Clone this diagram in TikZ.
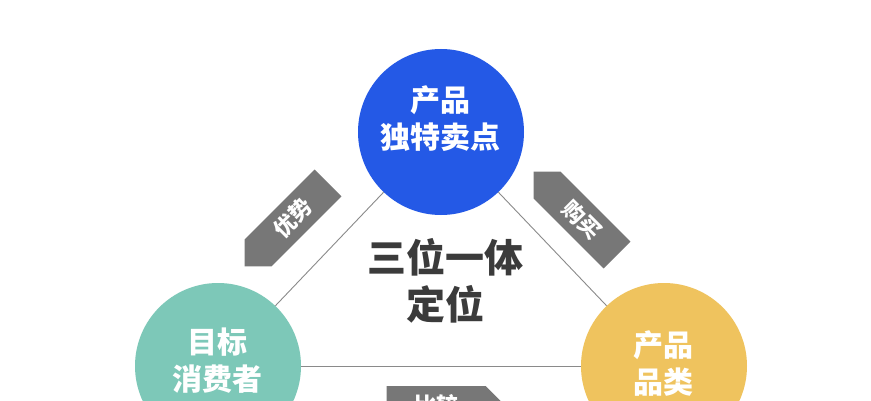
\documentclass[tikz,border=0pt]{standalone}
\usepackage{fontspec}
\setmainfont{Noto Sans CJK SC}
\usepackage{tikz}
\usetikzlibrary{shapes.symbols}

\definecolor{uspblue}{HTML}{2459E6}
\definecolor{custteal}{HTML}{7DC8B8}
\definecolor{catyellow}{HTML}{EFC35E}
\definecolor{taggray}{HTML}{777777}
\definecolor{linegray}{HTML}{8A8A8A}
\definecolor{midtext}{HTML}{3B3B3B}

\tikzset{
  ball/.style={circle, minimum size=166pt, inner sep=0pt},
  balltext/.style={text=white, align=center, font=\fontsize{30}{37}\selectfont\bfseries},
  tag/.style={signal, signal pointer angle=90, fill=taggray, text=white,
    minimum width=118pt, minimum height=38pt, inner sep=0pt,
    font=\fontsize{22}{22}\selectfont\bfseries},
  link/.style={draw=linegray, line width=0.9pt}
}

\begin{document}
\begin{tikzpicture}[x=1pt, y=1pt]
    \clip (0,0) rectangle (871,400);
    \useasboundingbox (0,0) rectangle (871,400);
    \fill[white] (0,0) rectangle (871,400);

    % three circles
    \node[ball, fill=uspblue] (usp) at (441,268) {};
    \node[ball, fill=custteal] (cust) at (218,34) {};
    \node[ball, fill=catyellow] (cat) at (664,34) {};

    \draw[link] (usp) -- (cust);
    \draw[link] (usp) -- (cat);
    \draw[link] (cust) -- (cat);

    \node[balltext] (uspTxt) at (440,281) {产品\\独特卖点};
    \node[balltext] (custTxt) at (217,39) {目标\\消费者};
    \node[balltext] (catTxt) at (663,36) {产品\\品类};

    % middle title
    \node[text=midtext, align=center, font=\fontsize{39}{47}\selectfont\bfseries] (title) at (445,119) {三位一体\\定位};

    % tags
    \node[tag, signal to=west, rotate=45] (adv) at (293,182) {优势};
    \node[tag, signal to=west, rotate=-45] (buy) at (582,180) {购买};
    \node[tag, signal to=east] (cmp) at (436,-5) {比较};
\end{tikzpicture}
\end{document}
